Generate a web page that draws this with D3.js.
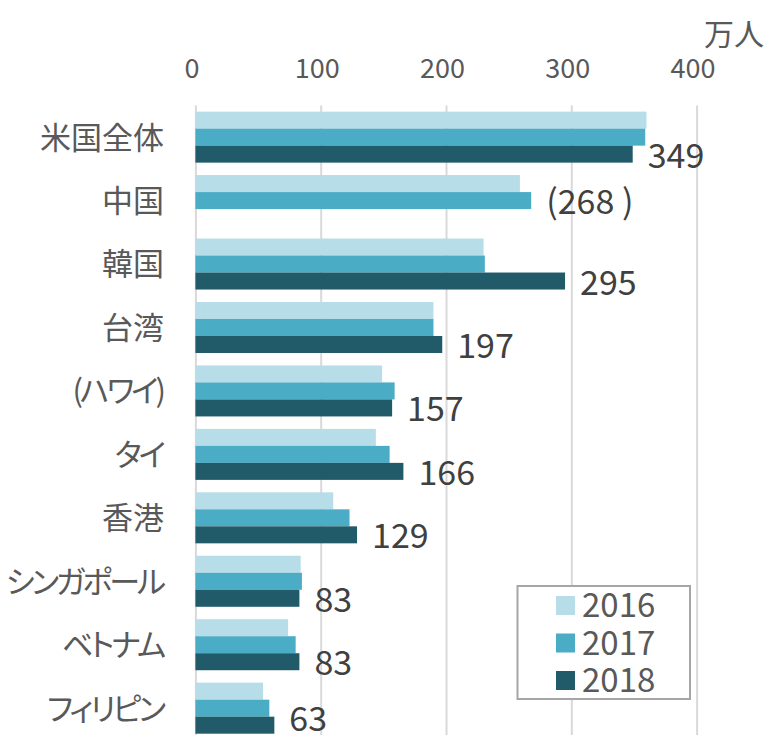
<!DOCTYPE html>
<html>
<head>
<meta charset="utf-8">
<script src="https://cdn.jsdelivr.net/npm/d3@7"></script>
<style>
  body { margin: 0; background: #fff; }
  svg { display: block; font-family: "Noto Sans CJK JP", "Noto Sans", sans-serif; }
</style>
</head>
<body>
<svg id="chart"></svg>
<script>
// data
let categories = ['米国全体', '中国', '韓国', '台湾', '(ハワイ)', 'タイ', '香港', 'シンガポール', 'ベトナム', 'フィリピン']
let years = ['2016', '2017', '2018']
let v2016 = [360, 259, 230, 190, 149, 144, 110, 84, 74, 54]
let v2017 = [359, 268, 231, 190, 159, 155, 123, 85, 80, 59]
let v2018 = [349, null, 295, 197, 157, 166, 129, 83, 83, 63]
let xTicks = [0, 100, 200, 300, 400]
let unitLabel = '万人'
// labels: china has no 2018 value, so its 2017 figure is shown in brackets
let labelText = ['349', '(268 )', '295', '197', '157', '166', '129', '83', '83', '63']
let labelYear = ['2018', '2017', '2018', '2018', '2018', '2018', '2018', '2018', '2018', '2018']

let width = 768
let height = 735
let padLeft = 195.4
let padTop = 105.4

let colors = { '2016': '#b7dde8', '2017': '#4bacc6', '2018': '#215a69' }
let textColor = '#595959'

let svg = d3.select('#chart')
  .attr('width', width)
  .attr('height', height)

let rows = categories.map((c, i) => ({
  name: c,
  '2016': v2016[i],
  '2017': v2017[i],
  '2018': v2018[i]
}))

// x scale, 0..400
let xScale = d3.scaleLinear().domain([0, 400]).range([padLeft, padLeft + 501.2])

// category bands, then the three years inside each band
let yScale = d3.scaleBand()
  .domain(categories)
  .range([padTop, padTop + 634.5])
  .paddingInner(0.196)
  .paddingOuter(0.098)
let ySub = d3.scaleBand().domain(years).range([0, yScale.bandwidth()])

// grid lines + tick labels from the axis
let xAxis = d3.axisTop(xScale)
  .tickValues(xTicks)
  .tickSize(-(height - padTop + 10))
  .tickPadding(27)

svg.append('g')
  .attr('transform', 'translate(0,' + padTop + ')')
  .call(xAxis)
  .call(g => g.select('.domain').remove())
  .call(g => g.selectAll('line')
    .attr('stroke', '#d9d9d9')
    .attr('stroke-width', 2))
  .call(g => g.selectAll('text')
    .attr('fill', textColor)
    .attr('x', -4)
    .style('font-size', '27px')
    .style('font-family', '"Noto Sans CJK JP", sans-serif'))

// unit
svg.append('text')
  .attr('x', 704)
  .attr('y', 45)
  .attr('fill', textColor)
  .style('font-size', '30px')
  .text(unitLabel)

// bars
let groups = svg.append('g')
  .selectAll('g')
  .data(rows)
  .join('g')
  .attr('transform', d => 'translate(0,' + yScale(d.name) + ')')

groups.selectAll('rect')
  .data(d => years.filter(y => d[y] != null).map(y => ({ year: y, value: d[y] })))
  .join('rect')
  .attr('x', xScale(0))
  .attr('y', d => ySub(d.year))
  .attr('width', d => xScale(d.value) - xScale(0))
  .attr('height', ySub.bandwidth())
  .attr('fill', d => colors[d.year])

// value labels (kept inside the picture at the bottom, like excel does)
svg.append('g')
  .selectAll('text')
  .data(rows)
  .join('text')
  .attr('x', (d, i) => xScale(d[labelYear[i]]) + 15)
  .attr('y', (d, i) => Math.min(yScale(d.name) + ySub(labelYear[i]) + ySub.bandwidth() / 2 + 13.5, height - 4))
  .attr('fill', '#404040')
  .style('font-size', '34px')
  .text((d, i) => labelText[i])

// category labels - katakana is set tighter (proportional kana in the original)
let kana = /[\u30A0-\u30FF]/
svg.append('g')
  .selectAll('text')
  .data(categories)
  .join('text')
  .attr('x', d => kana.test(d) ? 163 : 164)
  .attr('y', d => yScale(d) + yScale.bandwidth() / 2)
  .attr('dy', '0.37em')
  .attr('text-anchor', 'end')
  .attr('fill', textColor)
  .style('font-size', '31px')
  .style('font-feature-settings', '"palt"')
  .style('letter-spacing', d => kana.test(d) ? '-3px' : '0px')
  .text(d => d)

// legend
let legend = svg.append('g')
legend.append('rect')
  .attr('x', 517.5)
  .attr('y', 586)
  .attr('width', 172.5)
  .attr('height', 113)
  .attr('fill', '#fff')
  .attr('stroke', '#a6a6a6')
  .attr('stroke-width', 2)

let item = legend.selectAll('g')
  .data(years)
  .join('g')
  .attr('transform', (d, i) => 'translate(556,' + (596 + i * 37.5) + ')')
item.append('rect')
  .attr('width', 19)
  .attr('height', 19)
  .attr('fill', d => colors[d])
item.append('text')
  .attr('x', 26)
  .attr('y', 21)
  .attr('fill', textColor)
  .style('font-size', '33px')
  .text(d => d)
</script>
</body>
</html>
